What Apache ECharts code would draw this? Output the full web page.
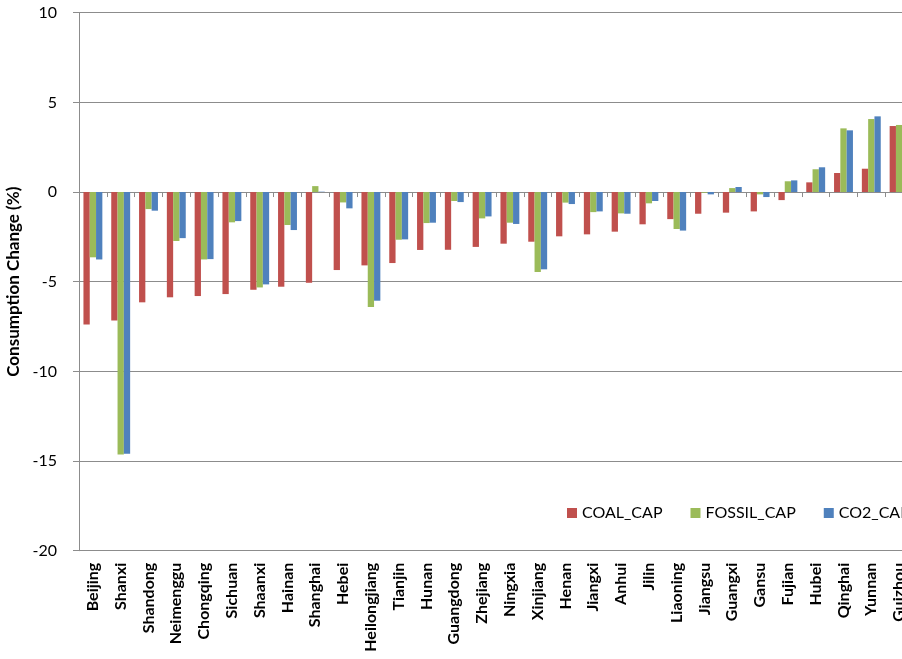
<!DOCTYPE html>
<html>
<head>
<meta charset="utf-8">
<script src="https://cdn.jsdelivr.net/npm/echarts@6/dist/echarts.min.js"></script>
<style>
  html, body { margin: 0; padding: 0; background: #ffffff; }
  #chart { width: 902px; height: 659px; }
</style>
</head>
<body>
<div id="chart"></div>
<script>
// Provinces, ordered by coal consumption change
const provinces = ['Beijing','Shanxi','Shandong','Neimenggu','Chongqing','Sichuan','Shaanxi','Hainan','Shanghai','Hebei',
  'Heilongjiang','Tianjin','Hunan','Guangdong','Zhejiang','Ningxia','Xinjiang','Henan','Jiangxi','Anhui',
  'Jilin','Liaoning','Jiangsu','Guangxi','Gansu','Fujian','Hubei','Qinghai','Yunnan','Guizhou'];

// Consumption change (%) per scenario
const coalCap = [-7.38,-7.16,-6.15,-5.87,-5.80,-5.69,-5.45,-5.28,-5.06,-4.35,
  -4.09,-3.96,-3.23,-3.22,-3.06,-2.88,-2.77,-2.47,-2.36,-2.21,
  -1.80,-1.51,-1.21,-1.15,-1.08,-0.45,0.54,1.06,1.30,3.68];
const fossilCap = [-3.64,-14.63,-0.95,-2.73,-3.76,-1.69,-5.32,-1.84,0.33,-0.58,
  -6.41,-2.66,-1.73,-0.50,-1.47,-1.71,-4.46,-0.59,-1.12,-1.19,
  -0.63,-2.06,-0.04,0.22,-0.13,0.60,1.27,3.55,4.07,3.74];
const co2Cap = [-3.76,-14.60,-1.04,-2.57,-3.74,-1.62,-5.15,-2.12,0.02,-0.91,
  -6.06,-2.64,-1.71,-0.56,-1.36,-1.78,-4.31,-0.67,-1.08,-1.21,
  -0.50,-2.15,-0.13,0.28,-0.28,0.65,1.38,3.44,4.22,3.70];

const seriesNames = ['COAL_CAP', 'FOSSIL_CAP', 'CO2_CAP'];
const seriesColors = ['#C0504D', '#9BBB59', '#4F81BD'];
const seriesData = [coalCap, fossilCap, co2Cap];

const yTicks = { min: -20, max: 10, interval: 5 };

const FONT = 'Lato, "Open Sans", "Liberation Sans", sans-serif';
const AXIS_GRAY = '#8C8C8C';

const chart = echarts.init(document.getElementById('chart'), null, { renderer: 'canvas' });

chart.setOption({
  animation: false,
  backgroundColor: '#ffffff',
  textStyle: { fontFamily: FONT },
  // the plot runs past the right edge, so the last group is clipped
  grid: { left: 79, top: 12.7, right: -11, height: 538, containLabel: false, outerBoundsMode: 'none' },
  legend: {
    left: 567,
    top: 505,
    padding: 0,
    width: 600,
    itemWidth: 10,
    itemHeight: 10,
    itemGap: 28,
    icon: 'rect',
    textStyle: { fontFamily: FONT, fontSize: 16, color: '#000' },
    data: seriesNames
  },
  xAxis: [
    {
      // category labels along the bottom of the plot
      type: 'category',
      data: provinces,
      position: 'bottom',
      axisLine: { show: false, onZero: false },
      axisTick: { show: false },
      axisLabel: {
        interval: 0,
        rotate: 90,
        margin: 12,
        fontFamily: FONT,
        fontWeight: 'bold',
        fontSize: 16,
        color: '#000'
      },
      splitLine: { show: false }
    },
    {
      // horizontal axis line with ticks, crossing at zero
      type: 'category',
      data: provinces,
      position: 'bottom',
      axisLine: { show: true, onZero: true, lineStyle: { color: AXIS_GRAY, width: 1 } },
      axisTick: { show: true, length: 5, interval: 0, lineStyle: { color: AXIS_GRAY } },
      axisLabel: { show: false },
      splitLine: { show: false }
    }
  ],
  yAxis: {
    type: 'value',
    min: yTicks.min,
    max: yTicks.max,
    interval: yTicks.interval,
    name: 'Consumption Change (%)',
    nameLocation: 'middle',
    nameRotate: 90,
    nameGap: 47,
    nameTextStyle: { fontFamily: FONT, fontWeight: 'bold', fontSize: 17, color: '#000' },
    axisLine: { show: true, lineStyle: { color: AXIS_GRAY, width: 1 } },
    axisTick: { show: true, length: 6, lineStyle: { color: AXIS_GRAY } },
    axisLabel: { margin: 22, fontFamily: FONT, fontSize: 16, color: '#000' },
    splitLine: { show: true, lineStyle: { color: AXIS_GRAY, width: 1 } }
  },
  series: seriesNames.map((name, i) => ({
    name: name,
    type: 'bar',
    xAxisIndex: 0,
    data: seriesData[i],
    barGap: '0%',
    barCategoryGap: '32%',
    itemStyle: { color: seriesColors[i] }
  }))
});
</script>
</body>
</html>
